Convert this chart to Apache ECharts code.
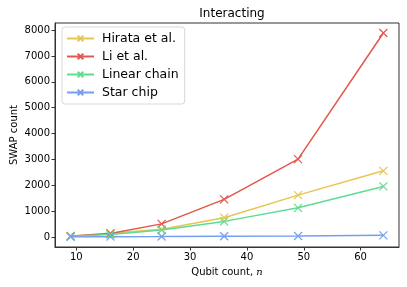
<!DOCTYPE html>
<html>
<head>
<meta charset="utf-8">
<script src="https://cdn.jsdelivr.net/npm/echarts@6/dist/echarts.min.js"></script>
<style>html,body{margin:0;padding:0;background:#fff}#c{width:407px;height:287px}</style>
</head>
<body>
<div id="c"></div>
<script>
const qubits = [9, 16, 25, 36, 49, 64];
const hirata = [40, 150, 300, 750, 1620, 2560];
const li = [36, 140, 510, 1456, 3010, 7886];
const linearChain = [30, 100, 270, 606, 1131, 1957];
const starChip = [10, 15, 20, 30, 40, 66];
const xTicks = [10, 20, 30, 40, 50, 60];
const yTicks = [0, 1000, 2000, 3000, 4000, 5000, 6000, 7000, 8000];

const seriesDefs = [
  {name: 'Hirata et al.', data: hirata, color: '#e5c64f'},
  {name: 'Li et al.', data: li, color: '#e5564b'},
  {name: 'Linear chain', data: linearChain, color: '#5ddd90'},
  {name: 'Star chip', data: starChip, color: '#759ff0'}
];
const xMark = 'path://M0,0L10,10M10,0L0,10';
const font = 'DejaVu Sans';

const chart = echarts.init(document.getElementById('c'), null, {renderer: 'canvas'});
chart.setOption({
  animation: false,
  backgroundColor: '#fff',
  textStyle: {fontFamily: font},
  title: {
    text: 'Interacting', left: 227, top: 3, textAlign: 'center',
    textStyle: {fontFamily: font, fontSize: 12, fontWeight: 'normal', color: '#000'}
  },
  grid: {left: 55, right: 8, top: 23, bottom: 40, containLabel: false, outerBoundsMode: 'none',
    show: true, borderColor: '#333', borderWidth: 1, backgroundColor: 'transparent'},
  legend: {
    left: 62, top: 27, orient: 'vertical',
    backgroundColor: '#fff', borderColor: '#d8d8d8', borderWidth: 1, borderRadius: 3,
    padding: [5, 6, 5, 4], itemGap: 5, itemWidth: 27, itemHeight: 7,
    textStyle: {fontFamily: font, fontSize: 12.5, color: '#000', padding: [0, 0, 0, 3]}
  },
  xAxis: {
    type: 'value', min: 6.25, max: 66.75,
    name: '{a|Qubit count, }{b|n}', nameLocation: 'middle', nameGap: 20, nameMoveOverlap: false,
    nameTextStyle: {rich: {a: {fontFamily: font, fontSize: 10, color: '#000'}, b: {fontFamily: 'DejaVu Serif', fontStyle: 'italic', fontSize: 10, color: '#000'}}},
    axisLine: {show: true, onZero: false, lineStyle: {color: '#333', width: 1}},
    axisTick: {show: true, inside: false, length: 3.5, lineStyle: {color: '#333'}, customValues: xTicks},
    axisLabel: {color: '#000', fontSize: 10, fontFamily: font, margin: 5, customValues: xTicks, formatter: v => String(v)},
    splitLine: {show: false}
  },
  yAxis: {
    type: 'value', min: -384, max: 8274,
    name: 'SWAP count', nameLocation: 'middle', nameGap: 36, nameRotate: 90, nameMoveOverlap: false,
    nameTextStyle: {fontFamily: font, fontSize: 10, color: '#000'},
    axisLine: {show: true, onZero: false, lineStyle: {color: '#333', width: 1}},
    axisTick: {show: true, inside: false, length: 3.5, lineStyle: {color: '#333'}, customValues: yTicks},
    axisLabel: {color: '#000', fontSize: 10, fontFamily: font, margin: 5, customValues: yTicks, formatter: v => String(v)},
    splitLine: {show: false}
  },
  series: seriesDefs.map(s => ({
    name: s.name, type: 'line',
    data: qubits.map((q, i) => [q, s.data[i]]),
    symbol: xMark, symbolSize: 8, showSymbol: true,
    lineStyle: {color: s.color, width: 1.5},
    itemStyle: {color: 'transparent', borderColor: s.color, borderWidth: 1.2},
    emphasis: {disabled: true}
  }))
});
</script>
</body>
</html>
